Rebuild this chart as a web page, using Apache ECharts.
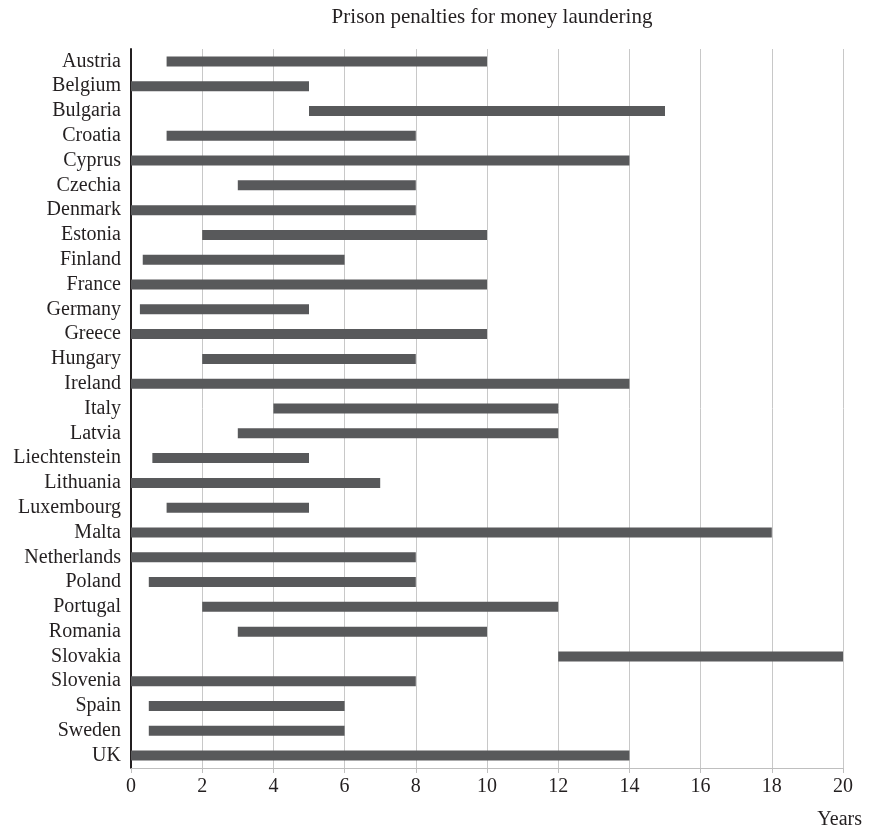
<!DOCTYPE html>
<html><head><meta charset="utf-8">
<script src="https://cdn.jsdelivr.net/npm/echarts@6/dist/echarts.min.js"></script>
<style>html,body{margin:0;padding:0;background:#fff}#c{width:874px;height:832px}</style>
</head><body><div id="c"></div>
<script>
const countries = ["Austria","Belgium","Bulgaria","Croatia","Cyprus","Czechia","Denmark","Estonia","Finland","France","Germany","Greece","Hungary","Ireland","Italy","Latvia","Liechtenstein","Lithuania","Luxembourg","Malta","Netherlands","Poland","Portugal","Romania","Slovakia","Slovenia","Spain","Sweden","UK"];
const minYears = [1,0,5,1,0,3,0,2,0.33,0,0.25,0,2,0,4,3,0.6,0,1,0,0,0.5,2,3,12,0,0.5,0.5,0];
const maxYears = [10,5,15,8,14,8,8,10,6,10,5,10,8,14,12,12,5,7,5,18,8,8,12,10,20,8,6,6,14];
const xTicks = [0,2,4,6,8,10,12,14,16,18,20];
const font = '"Liberation Serif", "DejaVu Serif", serif';
const chart = echarts.init(document.getElementById('c'));
chart.setOption({
  animation:false,
  title:{text:'Prison penalties for money laundering',left:487,textAlign:'center',top:2,
    textStyle:{fontFamily:font,fontSize:21,fontWeight:'normal',color:'#231f20'}},
  grid:{left:131,right:31,top:49,bottom:64,containLabel:false},
  xAxis:{type:'value',min:0,max:20,interval:2,
    name:'Years',nameLocation:'end',nameGap:0,
    nameTextStyle:{fontFamily:font,fontSize:20,color:'#231f20',align:'right',verticalAlign:'top',padding:[42,-19,0,0]},
    axisLine:{show:true,lineStyle:{color:'#bfbfbf'}},
    axisTick:{show:true,length:5,lineStyle:{color:'#bfbfbf'}},
    axisLabel:{fontFamily:font,fontSize:20,color:'#231f20',margin:9,
      formatter:v=>xTicks.includes(v)?String(v):''},
    splitLine:{show:true,lineStyle:{color:'#c8c8c8',width:1}}},
  yAxis:{type:'category',data:countries,inverse:true,
    axisLine:{show:true,lineStyle:{color:'#231f20',width:2}},
    axisTick:{show:false},
    axisLabel:{fontFamily:font,fontSize:20,color:'#231f20',margin:10,interval:0,hideOverlap:false}},
  series:[
    {type:'bar',stack:'s',data:minYears,itemStyle:{color:'transparent'},barWidth:10,silent:true},
    {type:'bar',stack:'s',data:maxYears.map((v,i)=>v-minYears[i]),itemStyle:{color:'#58595b'},barWidth:10}
  ]
});
</script></body></html>
